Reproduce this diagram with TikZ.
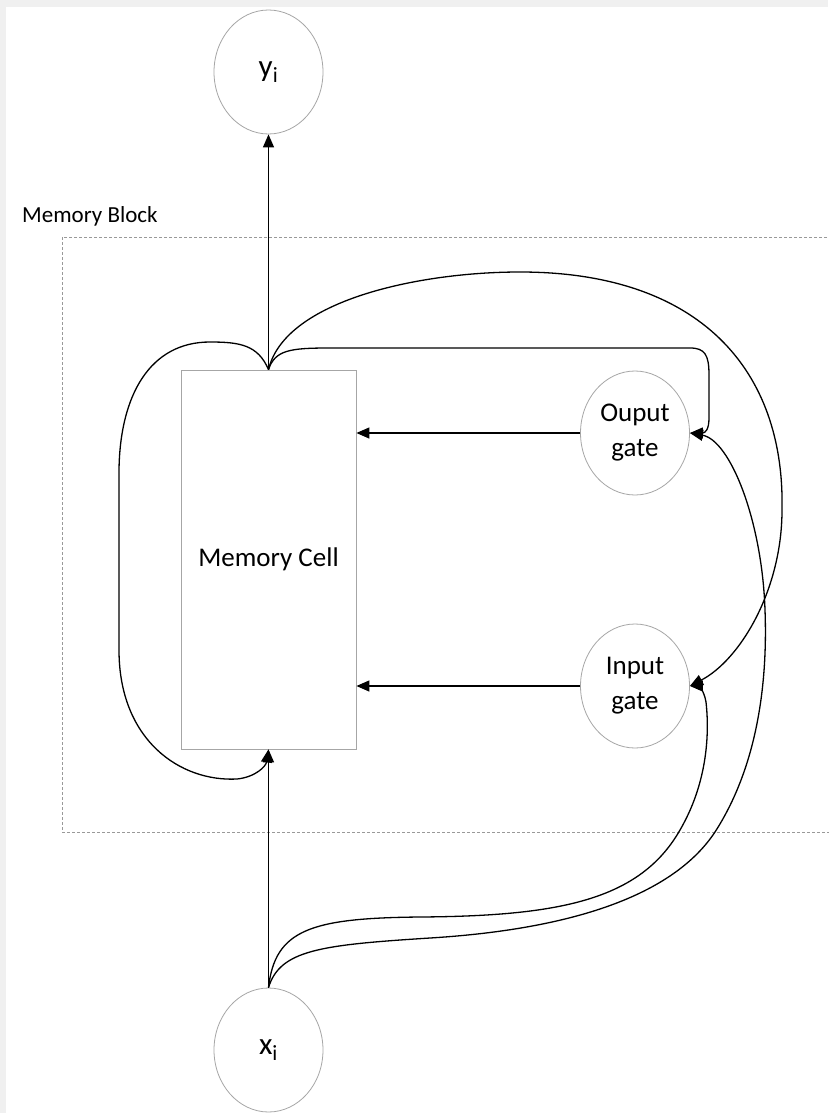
\documentclass[tikz,border=0pt]{standalone}
\usepackage{fontspec}
\setmainfont{Carlito}
\usetikzlibrary{shapes.geometric,arrows.meta}

\begin{document}
\begin{tikzpicture}[
  x=1pt, y=-1pt,
  unit/.style={ellipse, draw=gray!70, line width=0.8pt, minimum width=109pt,
    minimum height=124pt, inner sep=0pt, align=center,
    font=\fontsize{27}{35}\selectfont},
  term/.style={unit, font=\fontsize{31}{35}\selectfont},
  cellbox/.style={rectangle, draw=gray!70, line width=0.8pt, minimum width=175pt,
    minimum height=379pt, font=\fontsize{27}{33}\selectfont},
  link/.style={line width=1.3pt, -{Triangle[length=13pt,width=11pt]}},
  blockline/.style={draw=gray!80, line width=0.8pt, dash pattern=on 3pt off 2pt}
]
\useasboundingbox (0,0) rectangle (828,1113);
\fill[gray!12] (0,0) rectangle (828,1113);
\fill[white] (6,7) rectangle (828,1113);

% memory block
\draw[blockline] (62,237) rectangle (832,832);
\node[anchor=base west, inner sep=0pt, font=\fontsize{23}{28}\selectfont] (blocklabel) at (22,222) {Memory Block};

% nodes
\node[term] (yi) at (268.5,72) {y\textsubscript{i}};
\node[term] (xi) at (268.5,1050) {x\textsubscript{i}};
\node[cellbox] (cell) at (268.5,559.5) {Memory Cell};
\node[unit] (og) at (635,433) {Ouput\\gate};
\node[unit] (ig) at (635,686) {Input\\gate};

% straight links
\draw[link] (cell.north) -- (yi.south);
\draw[link] (xi.north) -- (cell.south);
\draw[link] (og.west) -- (og.west -| cell.east);
\draw[link] (ig.west) -- (ig.west -| cell.east);

% recurrent loop
\draw[link] (cell.north) .. controls (258,345) and (240,342) .. (210,342)
  .. controls (150,342) and (120,395) .. (119,470) -- (119,650)
  .. controls (119,740) and (180,782) .. (237,779)
  .. controls (256,777) and (266,766) .. (cell.south);

% cell to gates
\draw[link] (cell.north) .. controls (275,350) and (290,348) .. (330,348) -- (690,348)
  .. controls (705,348) and (709,355) .. (709,375) -- (709,418)
  .. controls (709,430) and (705,433) .. (og.east);
\draw[link] (cell.north) .. controls (285,300) and (420,272) .. (520,272)
  .. controls (700,272) and (785,370) .. (782,510)
  .. controls (782,590) and (740,660) .. (ig.east);

% input to gates
\draw[link] (xi.north) .. controls (275,930) and (310,918) .. (420,917)
  .. controls (560,916) and (640,900) .. (680,830)
  .. controls (712,775) and (708,720) .. (706,702)
  .. controls (704,690) and (698,686) .. (ig.east);
\draw[link] (xi.north) .. controls (280,950) and (320,945) .. (430,938)
  .. controls (560,930) and (670,900) .. (715,832)
  .. controls (755,770) and (768,690) .. (765,610)
  .. controls (762,520) and (730,440) .. (og.east);
\end{tikzpicture}
\end{document}
